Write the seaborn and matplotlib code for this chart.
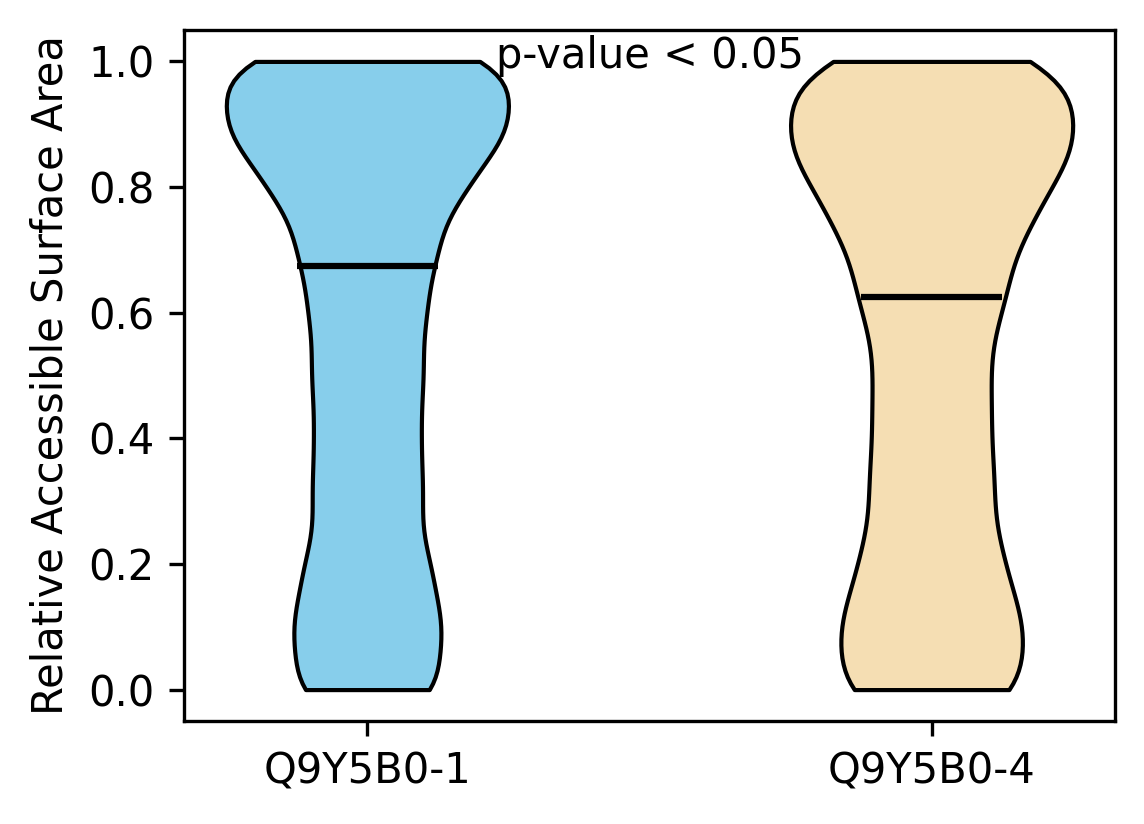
import numpy as np
import pandas as pd
import matplotlib
matplotlib.use("Agg")
import matplotlib.pyplot as plt
import seaborn as sns

# ---- data ----
isoforms = ["Q9Y5B0-1", "Q9Y5B0-4"]
rsa_levels = [0.000, 0.025, 0.050, 0.075, 0.100, 0.125, 0.150, 0.175, 0.200, 0.225,
              0.250, 0.275, 0.300, 0.325, 0.350, 0.375, 0.400, 0.425, 0.450, 0.475,
              0.500, 0.525, 0.550, 0.575, 0.600, 0.625, 0.650, 0.675, 0.700, 0.725,
              0.750, 0.775, 0.800, 0.825, 0.850, 0.875, 0.900, 0.925, 0.950, 0.975,
              1.000]
counts_iso1 = [47, 0, 0, 13, 32, 7, 0, 16, 20, 7,
               3, 8, 15, 12, 5, 7, 13, 12, 5, 5,
               16, 16, 1, 0, 28, 10, 0, 2, 42, 0,
               0, 12, 50, 0, 0, 43, 51, 0, 0, 61,
               39]
counts_iso4 = [60, 0, 0, 0, 48, 13, 0, 0, 23, 24,
               0, 0, 5, 29, 8, 0, 3, 20, 13, 0,
               7, 18, 8, 0, 8, 24, 16, 6, 1, 12,
               37, 18, 1, 4, 47, 45, 0, 0, 26, 67,
               6]
kde_sigma = [0.055, 0.065]
colors = ["#87CEEB", "#F5DEB3"]
p_text = "p-value < 0.05"

samples = [np.repeat(rsa_levels, counts_iso1), np.repeat(rsa_levels, counts_iso4)]
df = pd.DataFrame({
    "isoform": np.concatenate([[iso] * len(s) for iso, s in zip(isoforms, samples)]),
    "rsa": np.concatenate(samples),
})

fig = plt.figure(figsize=(1144 / 300, 824 / 300), dpi=300)
ax = fig.add_axes([184 / 1144, 103 / 824, (1115 - 184) / 1144, (721 - 30) / 824])

for i, iso in enumerate(isoforms):
    sub = df[df["isoform"] == iso]
    bw = kde_sigma[i] / np.std(sub["rsa"].to_numpy(), ddof=1)
    sns.violinplot(data=sub, x="isoform", y="rsa", order=isoforms, ax=ax,
                   color=colors[i], saturation=1, inner=None, cut=0,
                   width=0.5, density_norm="width", bw_method=bw,
                   linecolor="black", linewidth=1.0)
    med = np.median(sub["rsa"].to_numpy())
    ax.hlines(med, i - 0.125, i + 0.125, colors="black", linewidth=1.5, zorder=5)

ax.set_xlim(-0.325, 1.325)
ax.set_ylim(-0.05, 1.05)
ax.set_yticks([0.0, 0.2, 0.4, 0.6, 0.8, 1.0])
ax.set_xlabel("")
ax.set_ylabel("Relative Accessible Surface Area", fontsize=10)
ax.tick_params(labelsize=10)
ax.text(0.5, 1.008, p_text, ha="center", va="center", fontsize=10)

fig.savefig("out.png", dpi=300)
